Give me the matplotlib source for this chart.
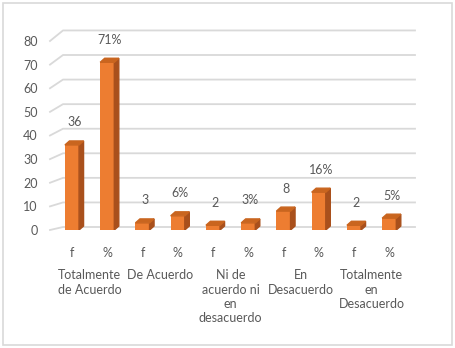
import numpy as np
import matplotlib.pyplot as plt
from matplotlib.patches import Polygon, Rectangle
from matplotlib.transforms import blended_transform_factory

# data
categorias = ['Totalmente\nde Acuerdo', 'De Acuerdo', 'Ni de\nacuerdo ni\nen\ndesacuerdo',
              'En\nDesacuerdo', 'Totalmente\nen\nDesacuerdo']
frecuencia = [36, 3, 2, 8, 2]
porcentaje = [71, 6, 3, 16, 5]
sub_labels = ['f', '%']
yticks = [0, 10, 20, 30, 40, 50, 60, 70, 80]

plt.rcParams['font.family'] = ['Lato', 'DejaVu Sans']
txt = '#595959'
grid_c = '#D9D9D9'
front_c = '#ED7D31'
side_c = '#A9501C'
top_c = '#C9651F'

W, H = 455, 348
fig = plt.figure(figsize=(W / 100, H / 100), dpi=100)
fig.patches.append(Rectangle((3 / W, 3 / H), 449 / W, 342 / H, transform=fig.transFigure,
                             fill=False, edgecolor=grid_c, linewidth=1.2))

# axes: x px 50..415, y px 230 (0) .. 41 (80)
ax = fig.add_axes([50 / W, (H - 230) / H, 365 / W, 189 / H])
px_x = 35.25            # pixels per bar slot
px_y = 189 / 80         # pixels per unit
x0 = -22 / px_x         # front-left edge
ax.set_xlim(x0, x0 + 365 / px_x)
ax.set_ylim(0, 80)
for s in ax.spines.values():
    s.set_visible(False)
ax.patch.set_visible(False)

# perspective gridlines (back wall slightly higher than front)
back_x = x0 + 13 / px_x
for v in yticks:
    vb = v * 1.04 + 3 / px_y
    ax.plot([x0, back_x, x0 + 365 / px_x], [v, vb, vb], color=grid_c, lw=1.3,
            clip_on=False, zorder=0)

values, labels, ticklab = [], [], []
for f, p in zip(frecuencia, porcentaje):
    values += [f, p]
    labels += [str(f), f'{p}%']
    ticklab += sub_labels
xs = np.arange(len(values))
w = 0.4
dx = 4.5 / px_x
dy = 4 / px_y

ax.bar(xs, values, width=w, color=front_c, zorder=3)
for x, v, lab in zip(xs, values, labels):
    r = x + w / 2
    l = x - w / 2
    ax.add_patch(Polygon([(r, 0), (r + dx, dy), (r + dx, v + dy), (r, v)],
                         closed=True, color=side_c, zorder=3))
    ax.add_patch(Polygon([(l, v), (l + dx, v + dy), (r + dx, v + dy), (r, v)],
                         closed=True, color=top_c, zorder=3))
    ax.annotate(lab, (x + dx / 2, v + dy), xytext=(0, 9), textcoords='offset points',
                ha='center', va='bottom', fontsize=9, color=txt)

ax.set_yticks(yticks)
ax.set_xticks(xs)
ax.set_xticklabels(ticklab)
ax.tick_params(axis='both', length=0, colors=txt, labelsize=9)
ax.tick_params(axis='y', pad=9)
ax.tick_params(axis='x', pad=12)

tr = blended_transform_factory(ax.transData, fig.transFigure)
for i, c in enumerate(categorias):
    ax.text(2 * i + 0.5, (H - 269) / H, c, transform=tr, ha='center', va='top',
            fontsize=9, color=txt, linespacing=1.25)

plt.savefig('out.png', dpi=100)
